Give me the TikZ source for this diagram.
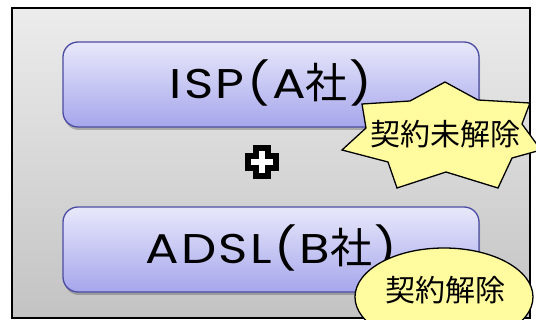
\documentclass[tikz,border=0pt]{standalone}
\usepackage{fontspec}
\setmainfont{Poppins}[FakeStretch=1.2, LetterSpace=6]
\newfontfamily\jpfont{Noto Sans CJK JP}
\usetikzlibrary{shapes.geometric,shadows,calc}
\definecolor{frametop}{HTML}{ECECEC}
\definecolor{framebottom}{HTML}{C3C3C3}
\definecolor{plantop}{HTML}{E8E8FB}
\definecolor{planbottom}{HTML}{A6A6EC}
\definecolor{planline}{HTML}{4C4CA4}
\definecolor{noteyellow}{HTML}{FFFB9E}
\newcommand{\sha}{{\jpfont\fontsize{42}{42}\selectfont 社\kern2pt}}

\begin{document}
\begin{tikzpicture}[x=1pt,y=-1pt,
  plan/.style={draw=planline, line width=1.3pt, rounded corners=15pt,
    top color=plantop, bottom color=planbottom,
    minimum width=416pt, minimum height=85pt, text height=29pt, text depth=0pt,
    font=\fontsize{41.5}{41.5}\selectfont,
    drop shadow={shadow xshift=1pt, shadow yshift=-3pt, opacity=.35, fill=black!70}},
  note/.style={font=\jpfont\fontsize{30}{30}\selectfont, inner sep=0pt}]
\clip (0,0) rectangle (536,320);
\useasboundingbox (0,0) rectangle (536,320);
\draw[line width=1.6pt, top color=frametop, bottom color=framebottom] (12,8) rectangle (530,318);
\node[plan] (isp) at (271,84.5) {ISP(A\sha)};
\node[plan] (adsl) at (271,249.5) {ADSL(B\sha)};
\filldraw[fill=white, line width=6.5pt, line join=miter]
  ($(262,162)+(-6,-14)$) -- ++(12,0) -- ++(0,8) -- ++(8,0) -- ++(0,12) -- ++(-8,0)
  -- ++(0,8) -- ++(-12,0) -- ++(0,-8) -- ++(-8,0) -- ++(0,-12) -- ++(8,0) -- cycle;
\filldraw[fill=noteyellow, line width=1.3pt, line join=miter]
  (445,82) -- (478,100) -- (530,103) -- (522,124) -- (541,150) -- (512,158) -- (498,188)
  -- (446,172) -- (397,188) -- (388,162) -- (342,150) -- (366,128) -- (362,104) -- (410,101) -- cycle;
\node[note] (pending) at (445,134) {契約未解除};
\node[ellipse, draw, line width=1.3pt, fill=noteyellow, minimum width=178pt, minimum height=98pt] (doneshape) at (444,297) {};
\node[note] (done) at (445,290) {契約解除};
\end{tikzpicture}
\end{document}
